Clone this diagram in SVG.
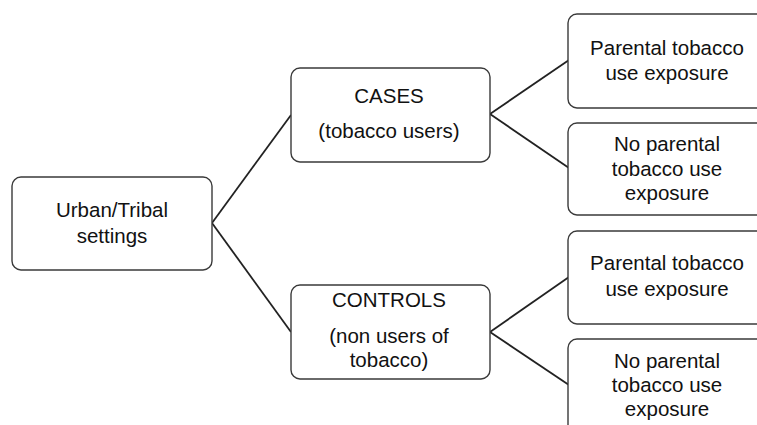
<svg xmlns="http://www.w3.org/2000/svg" width="757" height="425" viewBox="0 0 757 425">
<style>
.box{fill:#fff;stroke:#3a3a3a;stroke-width:1.4}
.t{font-family:"Liberation Sans",Arial,sans-serif;font-size:20.5px;fill:#111;text-anchor:middle}
.c{stroke:#222;stroke-width:1.8;fill:none}
</style>
<rect width="757" height="425" fill="#fff"/>
<g id="connectors">
<line class="c" x1="212" y1="223" x2="291" y2="115"/>
<line class="c" x1="212" y1="223" x2="291" y2="332"/>
<line class="c" x1="490" y1="114" x2="569" y2="60"/>
<line class="c" x1="490" y1="114" x2="569" y2="168"/>
<line class="c" x1="490" y1="332" x2="569" y2="277"/>
<line class="c" x1="490" y1="332" x2="569" y2="385"/>
</g>
<g id="root">
<rect class="box" x="12" y="177" width="200" height="93" rx="9"/>
<text class="t" x="112" y="217">Urban/Tribal</text>
<text class="t" x="112" y="243">settings</text>
</g>
<g id="cases">
<rect class="box" x="291" y="68" width="199" height="94" rx="9"/>
<text class="t" x="389" y="103">CASES</text>
<text class="t" x="389" y="138">(tobacco users)</text>
</g>
<g id="controls">
<rect class="box" x="291" y="285" width="199" height="94" rx="9"/>
<text class="t" x="389" y="307">CONTROLS</text>
<text class="t" x="389" y="343">(non users of</text>
<text class="t" x="389" y="367">tobacco)</text>
</g>
<g id="cases-exposed">
<rect class="box" x="568" y="14" width="198" height="94" rx="9"/>
<text class="t" x="667" y="55">Parental tobacco</text>
<text class="t" x="667" y="80">use exposure</text>
</g>
<g id="cases-unexposed">
<rect class="box" x="568" y="123" width="198" height="92" rx="9"/>
<text class="t" x="667" y="151">No parental</text>
<text class="t" x="667" y="176">tobacco use</text>
<text class="t" x="667" y="200">exposure</text>
</g>
<g id="controls-exposed">
<rect class="box" x="568" y="231" width="198" height="93" rx="9"/>
<text class="t" x="667" y="270">Parental tobacco</text>
<text class="t" x="667" y="296">use exposure</text>
</g>
<g id="controls-unexposed">
<rect class="box" x="568" y="339" width="198" height="100" rx="9"/>
<text class="t" x="667" y="368">No parental</text>
<text class="t" x="667" y="392">tobacco use</text>
<text class="t" x="667" y="416">exposure</text>
</g>
</svg>
